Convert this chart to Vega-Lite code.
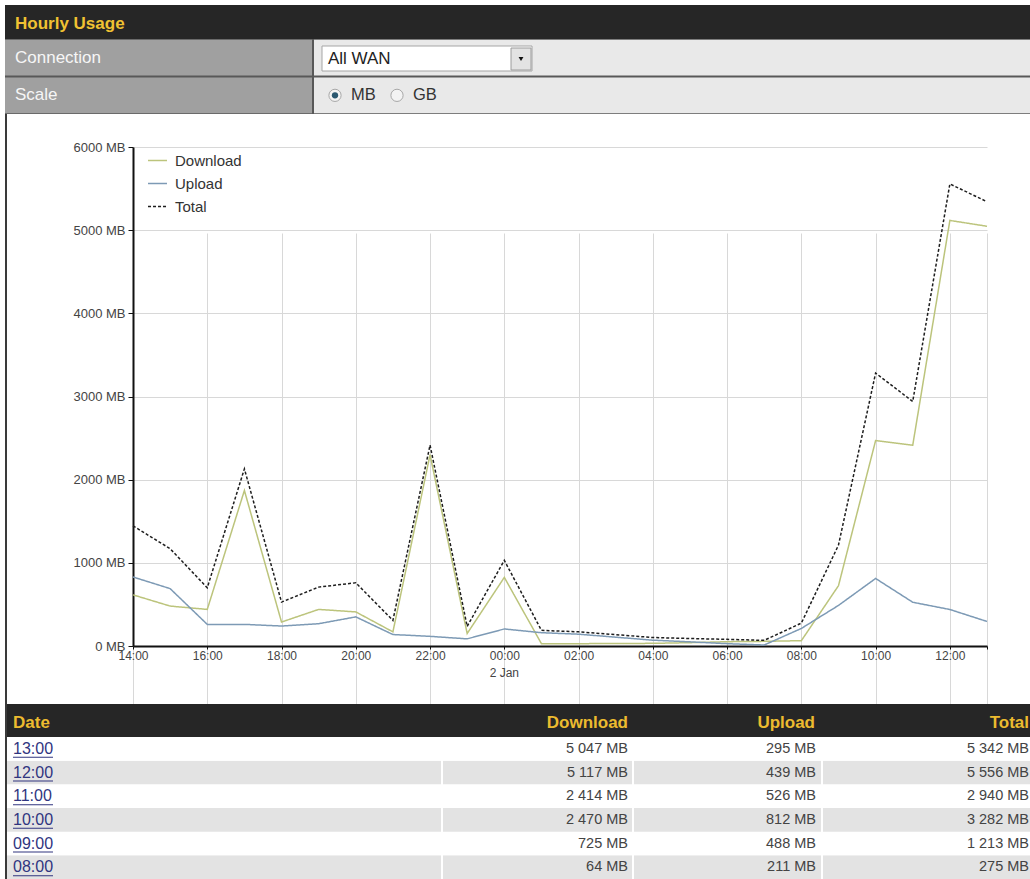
{
  "$schema": "https://vega.github.io/schema/vega-lite/v6.json",
  "width": 1030,
  "height": 879,
  "autosize": {"type": "none"},
  "padding": 0,
  "background": "white",
  "config": {
    "view": {"stroke": null},
    "font": "Liberation Sans"
  },
  "datasets": {
    "usage": [
      {"time": "2015-01-01T14:00", "Download": 615, "Upload": 830, "Total": 1445},
      {"time": "2015-01-01T15:00", "Download": 480, "Upload": 690, "Total": 1170},
      {"time": "2015-01-01T16:00", "Download": 440, "Upload": 260, "Total": 700},
      {"time": "2015-01-01T17:00", "Download": 1870, "Upload": 260, "Total": 2130},
      {"time": "2015-01-01T18:00", "Download": 288, "Upload": 240, "Total": 528},
      {"time": "2015-01-01T19:00", "Download": 440, "Upload": 268, "Total": 708},
      {"time": "2015-01-01T20:00", "Download": 410, "Upload": 350, "Total": 760},
      {"time": "2015-01-01T21:00", "Download": 170, "Upload": 138, "Total": 308},
      {"time": "2015-01-01T22:00", "Download": 2300, "Upload": 116, "Total": 2416},
      {"time": "2015-01-01T23:00", "Download": 150, "Upload": 86, "Total": 236},
      {"time": "2015-01-02T00:00", "Download": 825, "Upload": 205, "Total": 1030},
      {"time": "2015-01-02T01:00", "Download": 28, "Upload": 160, "Total": 188},
      {"time": "2015-01-02T02:00", "Download": 28, "Upload": 142, "Total": 170},
      {"time": "2015-01-02T03:00", "Download": 30, "Upload": 106, "Total": 136},
      {"time": "2015-01-02T04:00", "Download": 32, "Upload": 70, "Total": 102},
      {"time": "2015-01-02T05:00", "Download": 40, "Upload": 50, "Total": 90},
      {"time": "2015-01-02T06:00", "Download": 52, "Upload": 28, "Total": 80},
      {"time": "2015-01-02T07:00", "Download": 56, "Upload": 12, "Total": 68},
      {"time": "2015-01-02T08:00", "Download": 64, "Upload": 211, "Total": 275},
      {"time": "2015-01-02T09:00", "Download": 725, "Upload": 488, "Total": 1213},
      {"time": "2015-01-02T10:00", "Download": 2470, "Upload": 812, "Total": 3282},
      {"time": "2015-01-02T11:00", "Download": 2414, "Upload": 526, "Total": 2940},
      {"time": "2015-01-02T12:00", "Download": 5117, "Upload": 439, "Total": 5556},
      {"time": "2015-01-02T13:00", "Download": 5047, "Upload": 295, "Total": 5342}
    ],
    "formNames": [{"setting": "Connection", "part": "name"}, {"setting": "Scale", "part": "name"}],
    "formValues": [{"setting": "Connection", "part": "value"}, {"setting": "Scale", "part": "value"}],
    "connection": [{"setting": "Connection", "choice": "All WAN"}],
    "units": [{"setting": "Scale", "unit": "MB", "selected": true}, {"setting": "Scale", "unit": "GB", "selected": false}],
    "dayMark": [{"time": "2015-01-02T00:00", "value": 0, "note": "2 Jan"}]
  },
  "resolve": {"scale": {"x": "independent", "y": "independent", "color": "independent", "strokeDash": "independent"}},
  "layer": [
    {
      "data": {"values": [{"heading": "Hourly Usage"}]},
      "layer": [
        {"mark": {"type": "rect", "color": "#262626"},
         "encoding": {"x": {"field": "heading", "type": "nominal", "axis": null, "scale": {"type": "band", "range": [5, 1030], "paddingInner": 0, "paddingOuter": 0}},
                      "y": {"field": "heading", "type": "nominal", "axis": null, "scale": {"type": "band", "range": [5, 39], "paddingInner": 0, "paddingOuter": 0}}}},
        {"mark": {"type": "text", "align": "left", "baseline": "middle", "dx": 10, "dy": 2, "fontSize": 17, "fontWeight": "bold", "color": "#f1c232"},
         "encoding": {"x": {"field": "heading", "type": "nominal", "bandPosition": 0}, "y": {"field": "heading", "type": "nominal"}, "text": {"field": "heading"}}}
      ]
    },
    {
      "data": {"values": [{"block": "form"}]},
      "mark": {"type": "rect", "color": "#585858"},
      "encoding": {"x": {"field": "block", "type": "nominal", "axis": null, "scale": {"type": "band", "range": [5, 1030], "paddingInner": 0, "paddingOuter": 0}},
                   "y": {"field": "block", "type": "nominal", "axis": null, "scale": {"type": "band", "range": [39, 114], "paddingInner": 0, "paddingOuter": 0}}}
    },
    {
      "data": {"name": "formNames"},
      "layer": [
        {"mark": {"type": "rect", "color": "#a0a0a0"},
         "encoding": {"x": {"field": "part", "type": "nominal", "axis": null, "scale": {"type": "band", "range": [5, 312], "paddingInner": 0, "paddingOuter": 0}},
                      "y": {"field": "setting", "type": "nominal", "axis": null, "sort": null, "scale": {"type": "band", "domain": ["Connection", "Scale"], "range": [39, 114], "paddingInner": 0.05, "paddingOuter": 0.02}}}},
        {"mark": {"type": "text", "align": "left", "baseline": "middle", "dx": 10, "fontSize": 17, "color": "#f6f6f6"},
         "encoding": {"x": {"field": "part", "type": "nominal", "bandPosition": 0}, "y": {"field": "setting", "type": "nominal"}, "text": {"field": "setting"}}}
      ]
    },
    {
      "data": {"name": "formValues"},
      "mark": {"type": "rect", "color": "#e9e9e9"},
      "encoding": {"x": {"field": "part", "type": "nominal", "axis": null, "scale": {"type": "band", "range": [314, 1030], "paddingInner": 0, "paddingOuter": 0}},
                   "y": {"field": "setting", "type": "nominal", "axis": null, "sort": null, "scale": {"type": "band", "domain": ["Connection", "Scale"], "range": [39, 114], "paddingInner": 0.05, "paddingOuter": 0.02}}}
    },
    {
      "data": {"name": "connection"},
      "layer": [
        {"mark": {"type": "rect", "color": "#ffffff", "stroke": "#a5a5a5", "strokeWidth": 1},
         "encoding": {"x": {"field": "choice", "type": "nominal", "axis": null, "scale": {"type": "band", "range": [322, 532], "paddingInner": 0, "paddingOuter": 0}},
                      "y": {"field": "setting", "type": "nominal", "axis": null, "scale": {"type": "band", "range": [46, 71], "paddingInner": 0, "paddingOuter": 0}}}},
        {"mark": {"type": "text", "align": "left", "baseline": "middle", "dx": 6, "fontSize": 17, "color": "#222222"},
         "encoding": {"x": {"field": "choice", "type": "nominal", "bandPosition": 0}, "y": {"field": "setting", "type": "nominal"}, "text": {"field": "choice"}}}
      ]
    },
    {
      "data": {"name": "connection"},
      "layer": [
        {"mark": {"type": "rect", "color": "#e3e3e3", "stroke": "#9c9c9c", "strokeWidth": 1},
         "encoding": {"x": {"field": "choice", "type": "nominal", "axis": null, "scale": {"type": "band", "range": [511, 531], "paddingInner": 0, "paddingOuter": 0}},
                      "y": {"field": "setting", "type": "nominal", "axis": null, "scale": {"type": "band", "range": [48, 70], "paddingInner": 0, "paddingOuter": 0}}}},
        {"mark": {"type": "point", "shape": "triangle-down", "size": 24, "filled": true, "color": "#111111", "opacity": 1},
         "encoding": {"x": {"field": "choice", "type": "nominal"}, "y": {"field": "setting", "type": "nominal"}}}
      ]
    },
    {
      "data": {"name": "units"},
      "layer": [
        {"mark": {"type": "point", "shape": "circle", "size": 150, "filled": true, "color": "#f3f3f3", "stroke": "#a8a8a8", "strokeWidth": 1, "opacity": 1},
         "encoding": {"x": {"field": "unit", "type": "nominal", "axis": null, "sort": null, "scale": {"type": "point", "domain": ["MB", "GB"], "range": [335, 397], "padding": 0}},
                      "y": {"field": "setting", "type": "nominal", "axis": null, "scale": {"type": "band", "domain": ["Connection", "Scale"], "range": [39, 114], "paddingInner": 0.05, "paddingOuter": 0.02}}}},
        {"transform": [{"filter": "datum.selected"}],
         "mark": {"type": "point", "shape": "circle", "size": 40, "filled": true, "color": "#2a5870", "opacity": 1},
         "encoding": {"x": {"field": "unit", "type": "nominal"}, "y": {"field": "setting", "type": "nominal"}}},
        {"mark": {"type": "text", "align": "left", "baseline": "middle", "dx": 16, "fontSize": 16.5, "color": "#333333"},
         "encoding": {"x": {"field": "unit", "type": "nominal"}, "y": {"field": "setting", "type": "nominal"}, "text": {"field": "unit"}}}
      ]
    },
    {
      "layer": [
        {
          "data": {"name": "usage"},
          "transform": [{"fold": ["Download", "Upload", "Total"], "as": ["series", "value"]}],
          "mark": {"type": "line", "strokeWidth": 1.5},
          "encoding": {
            "x": {"field": "time", "type": "temporal",
                  "scale": {"domain": [{"year": 2015, "month": 1, "date": 1, "hours": 14}, {"year": 2015, "month": 1, "date": 2, "hours": 13}], "range": [133, 987]},
                  "axis": {"title": null, "orient": "bottom",
                           "values": [{"year": 2015, "month": 1, "date": 1, "hours": 14}, {"year": 2015, "month": 1, "date": 1, "hours": 16}, {"year": 2015, "month": 1, "date": 1, "hours": 18}, {"year": 2015, "month": 1, "date": 1, "hours": 20}, {"year": 2015, "month": 1, "date": 1, "hours": 22}, {"year": 2015, "month": 1, "date": 2, "hours": 0}, {"year": 2015, "month": 1, "date": 2, "hours": 2}, {"year": 2015, "month": 1, "date": 2, "hours": 4}, {"year": 2015, "month": 1, "date": 2, "hours": 6}, {"year": 2015, "month": 1, "date": 2, "hours": 8}, {"year": 2015, "month": 1, "date": 2, "hours": 10}, {"year": 2015, "month": 1, "date": 2, "hours": 12}, {"year": 2015, "month": 1, "date": 2, "hours": 13}],
                           "labelExpr": "hours(datum.value) == 13 ? '' : timeFormat(datum.value, '%H:%M')",
                           "offset": -233, "grid": true, "gridColor": "#d8d8d8", "gridWidth": 1,
                           "domainColor": "#111111", "domainWidth": 2, "tickColor": "#111111", "tickSize": 3,
                           "labelFont": "Liberation Sans", "labelFontSize": 12, "labelColor": "#444444",
                           "labelPadding": 1, "labelFlush": false, "labelOverlap": false}},
            "y": {"field": "value", "type": "quantitative",
                  "scale": {"domain": [0, 6000], "range": [646, 147], "nice": false, "zero": false},
                  "axis": {"title": null, "orient": "left", "values": [0, 1000, 2000, 3000, 4000, 5000, 6000],
                           "labelExpr": "datum.value + ' MB'", "offset": -133,
                           "grid": true, "gridColor": "#d8d8d8", "gridWidth": 1,
                           "domainColor": "#111111", "domainWidth": 2, "tickColor": "#111111", "tickSize": 5,
                           "labelFont": "Liberation Sans", "labelFontSize": 13, "labelColor": "#444444",
                           "labelPadding": 3, "labelFlush": false}},
            "color": {"field": "series", "type": "nominal",
                      "scale": {"domain": ["Download", "Upload", "Total"], "range": ["#bcc47c", "#7d9ab5", "#1e1e1e"]},
                      "legend": {"orient": "none", "legendX": 147, "legendY": 150, "title": null, "symbolType": "stroke",
                                 "symbolSize": 360, "symbolStrokeWidth": 1.5, "labelFontSize": 15, "labelColor": "#333333",
                                 "labelFont": "Liberation Sans", "rowPadding": 4, "padding": 0, "labelOffset": 7}},
            "strokeDash": {"field": "series", "type": "nominal",
                           "scale": {"domain": ["Download", "Upload", "Total"], "range": [[1, 0], [1, 0], [3, 2]]},
                           "legend": {"orient": "none", "legendX": 147, "legendY": 150, "title": null, "symbolType": "stroke",
                                      "symbolSize": 360, "symbolStrokeWidth": 1.5, "labelFontSize": 15, "labelColor": "#333333",
                                      "labelFont": "Liberation Sans", "rowPadding": 4, "padding": 0, "labelOffset": 7}}
          }
        },
        {
          "data": {"name": "dayMark"},
          "mark": {"type": "text", "align": "center", "baseline": "top", "dy": 22, "fontSize": 12, "color": "#444444"},
          "encoding": {"x": {"field": "time", "type": "temporal"}, "y": {"field": "value", "type": "quantitative"}, "text": {"field": "note"}}
        }
      ]
    },
    {
      "data": {"values": [{"block": "table header"}]},
      "mark": {"type": "rect", "color": "#262626"},
      "encoding": {"x": {"field": "block", "type": "nominal", "axis": null, "scale": {"type": "band", "range": [5, 1030], "paddingInner": 0, "paddingOuter": 0}},
                   "y": {"field": "block", "type": "nominal", "axis": null, "scale": {"type": "band", "range": [704, 737], "paddingInner": 0, "paddingOuter": 0}}}
    },
    {
      "data": {"values": [{"heading": "Date"}]},
      "mark": {"type": "text", "align": "left", "baseline": "middle", "dx": 8, "dy": 2, "fontSize": 17, "fontWeight": "bold", "color": "#ecbb2f"},
      "encoding": {"x": {"field": "heading", "type": "nominal", "axis": null, "bandPosition": 0, "scale": {"type": "band", "range": [5, 441], "paddingInner": 0, "paddingOuter": 0}},
                   "y": {"field": "heading", "type": "nominal", "axis": null, "scale": {"type": "band", "range": [704, 737], "paddingInner": 0, "paddingOuter": 0}},
                   "text": {"field": "heading"}}
    },
    {
      "data": {"values": [{"heading": "Download"}]},
      "mark": {"type": "text", "align": "right", "baseline": "middle", "dx": -6, "dy": 2, "fontSize": 17, "fontWeight": "bold", "color": "#ecbb2f"},
      "encoding": {"x": {"field": "heading", "type": "nominal", "axis": null, "bandPosition": 1, "scale": {"type": "band", "range": [443, 634], "paddingInner": 0, "paddingOuter": 0}},
                   "y": {"field": "heading", "type": "nominal", "axis": null, "scale": {"type": "band", "range": [704, 737], "paddingInner": 0, "paddingOuter": 0}},
                   "text": {"field": "heading"}}
    },
    {
      "data": {"values": [{"heading": "Upload"}]},
      "mark": {"type": "text", "align": "right", "baseline": "middle", "dx": -8, "dy": 2, "fontSize": 17, "fontWeight": "bold", "color": "#ecbb2f"},
      "encoding": {"x": {"field": "heading", "type": "nominal", "axis": null, "bandPosition": 1, "scale": {"type": "band", "range": [634, 823], "paddingInner": 0, "paddingOuter": 0}},
                   "y": {"field": "heading", "type": "nominal", "axis": null, "scale": {"type": "band", "range": [704, 737], "paddingInner": 0, "paddingOuter": 0}},
                   "text": {"field": "heading"}}
    },
    {
      "data": {"values": [{"heading": "Total"}]},
      "mark": {"type": "text", "align": "right", "baseline": "middle", "dx": -1, "dy": 2, "fontSize": 17, "fontWeight": "bold", "color": "#ecbb2f"},
      "encoding": {"x": {"field": "heading", "type": "nominal", "axis": null, "bandPosition": 1, "scale": {"type": "band", "range": [823, 1030], "paddingInner": 0, "paddingOuter": 0}},
                   "y": {"field": "heading", "type": "nominal", "axis": null, "scale": {"type": "band", "range": [704, 737], "paddingInner": 0, "paddingOuter": 0}},
                   "text": {"field": "heading"}}
    },
    {
      "data": {"name": "usage"},
      "transform": [
        {"filter": "time(datum.time) >= time(datetime(2015, 0, 2, 8))"},
        {"fold": ["time"], "as": ["column", "stamp"]}
      ],
      "layer": [
        {"mark": "rect",
         "encoding": {"x": {"field": "column", "type": "nominal", "axis": null, "scale": {"type": "band", "range": [7, 441], "paddingInner": 0, "paddingOuter": 0}},
                      "y": {"field": "time", "timeUnit": "hoursminutes", "type": "ordinal", "sort": "descending", "axis": null, "scale": {"range": [737, 879], "paddingInner": 0, "paddingOuter": 0}},
                      "color": {"field": "time", "timeUnit": "hoursminutes", "type": "ordinal", "scale": {"range": ["#e3e3e3", "#ffffff"]}, "legend": null}}},
        {"mark": {"type": "text", "align": "left", "baseline": "middle", "dx": 6, "fontSize": 16, "color": "#30357f"},
         "encoding": {"x": {"field": "column", "type": "nominal", "bandPosition": 0},
                      "y": {"field": "time", "timeUnit": "hoursminutes", "type": "ordinal", "sort": "descending"},
                      "text": {"field": "time", "timeUnit": "hoursminutes", "type": "temporal", "format": "%H:%M"}}}
      ]
    },
    {
      "data": {"name": "usage"},
      "transform": [
        {"filter": "time(datum.time) >= time(datetime(2015, 0, 2, 8))"},
        {"fold": ["time"], "as": ["column", "stamp"]}
      ],
      "mark": {"type": "tick", "orient": "horizontal", "size": 40, "thickness": 1, "color": "#30357f", "opacity": 1},
      "encoding": {"x": {"field": "column", "type": "nominal", "axis": null, "scale": {"type": "band", "range": [13, 53], "paddingInner": 0, "paddingOuter": 0}},
                   "y": {"field": "time", "timeUnit": "hoursminutes", "type": "ordinal", "sort": "descending", "axis": null, "bandPosition": 0.86, "scale": {"type": "band", "range": [737, 879], "paddingInner": 0, "paddingOuter": 0}}}
    },
    {
      "data": {"name": "usage"},
      "transform": [
        {"filter": "time(datum.time) >= time(datetime(2015, 0, 2, 8))"},
        {"fold": ["Download"], "as": ["column", "amount"]},
        {"calculate": "replace(format(datum.amount, ',d'), ',', ' ') + ' MB'", "as": "shown"}
      ],
      "layer": [
        {"mark": "rect",
         "encoding": {"x": {"field": "column", "type": "nominal", "axis": null, "scale": {"type": "band", "range": [443, 632], "paddingInner": 0, "paddingOuter": 0}},
                      "y": {"field": "time", "timeUnit": "hoursminutes", "type": "ordinal", "sort": "descending", "axis": null, "scale": {"range": [737, 879], "paddingInner": 0, "paddingOuter": 0}},
                      "color": {"field": "time", "timeUnit": "hoursminutes", "type": "ordinal", "scale": {"range": ["#e3e3e3", "#ffffff"]}, "legend": null}}},
        {"mark": {"type": "text", "align": "right", "baseline": "middle", "dx": -4, "fontSize": 14.5, "color": "#444444"},
         "encoding": {"x": {"field": "column", "type": "nominal", "bandPosition": 1},
                      "y": {"field": "time", "timeUnit": "hoursminutes", "type": "ordinal", "sort": "descending"},
                      "text": {"field": "shown"}}}
      ]
    },
    {
      "data": {"name": "usage"},
      "transform": [
        {"filter": "time(datum.time) >= time(datetime(2015, 0, 2, 8))"},
        {"fold": ["Upload"], "as": ["column", "amount"]},
        {"calculate": "replace(format(datum.amount, ',d'), ',', ' ') + ' MB'", "as": "shown"}
      ],
      "layer": [
        {"mark": "rect",
         "encoding": {"x": {"field": "column", "type": "nominal", "axis": null, "scale": {"type": "band", "range": [634, 821], "paddingInner": 0, "paddingOuter": 0}},
                      "y": {"field": "time", "timeUnit": "hoursminutes", "type": "ordinal", "sort": "descending", "axis": null, "scale": {"range": [737, 879], "paddingInner": 0, "paddingOuter": 0}},
                      "color": {"field": "time", "timeUnit": "hoursminutes", "type": "ordinal", "scale": {"range": ["#e3e3e3", "#ffffff"]}, "legend": null}}},
        {"mark": {"type": "text", "align": "right", "baseline": "middle", "dx": -5, "fontSize": 14.5, "color": "#444444"},
         "encoding": {"x": {"field": "column", "type": "nominal", "bandPosition": 1},
                      "y": {"field": "time", "timeUnit": "hoursminutes", "type": "ordinal", "sort": "descending"},
                      "text": {"field": "shown"}}}
      ]
    },
    {
      "data": {"name": "usage"},
      "transform": [
        {"filter": "time(datum.time) >= time(datetime(2015, 0, 2, 8))"},
        {"fold": ["Total"], "as": ["column", "amount"]},
        {"calculate": "replace(format(datum.amount, ',d'), ',', ' ') + ' MB'", "as": "shown"}
      ],
      "layer": [
        {"mark": "rect",
         "encoding": {"x": {"field": "column", "type": "nominal", "axis": null, "scale": {"type": "band", "range": [823, 1030], "paddingInner": 0, "paddingOuter": 0}},
                      "y": {"field": "time", "timeUnit": "hoursminutes", "type": "ordinal", "sort": "descending", "axis": null, "scale": {"range": [737, 879], "paddingInner": 0, "paddingOuter": 0}},
                      "color": {"field": "time", "timeUnit": "hoursminutes", "type": "ordinal", "scale": {"range": ["#e3e3e3", "#ffffff"]}, "legend": null}}},
        {"mark": {"type": "text", "align": "right", "baseline": "middle", "dx": -1, "fontSize": 14.5, "color": "#444444"},
         "encoding": {"x": {"field": "column", "type": "nominal", "bandPosition": 1},
                      "y": {"field": "time", "timeUnit": "hoursminutes", "type": "ordinal", "sort": "descending"},
                      "text": {"field": "shown"}}}
      ]
    },
    {
      "data": {"values": [{"block": "page border"}]},
      "mark": {"type": "rect", "color": "#3a3a3a"},
      "encoding": {"x": {"field": "block", "type": "nominal", "axis": null, "scale": {"type": "band", "range": [5, 7], "paddingInner": 0, "paddingOuter": 0}},
                   "y": {"field": "block", "type": "nominal", "axis": null, "scale": {"type": "band", "range": [114, 879], "paddingInner": 0, "paddingOuter": 0}}}
    }
  ]
}
